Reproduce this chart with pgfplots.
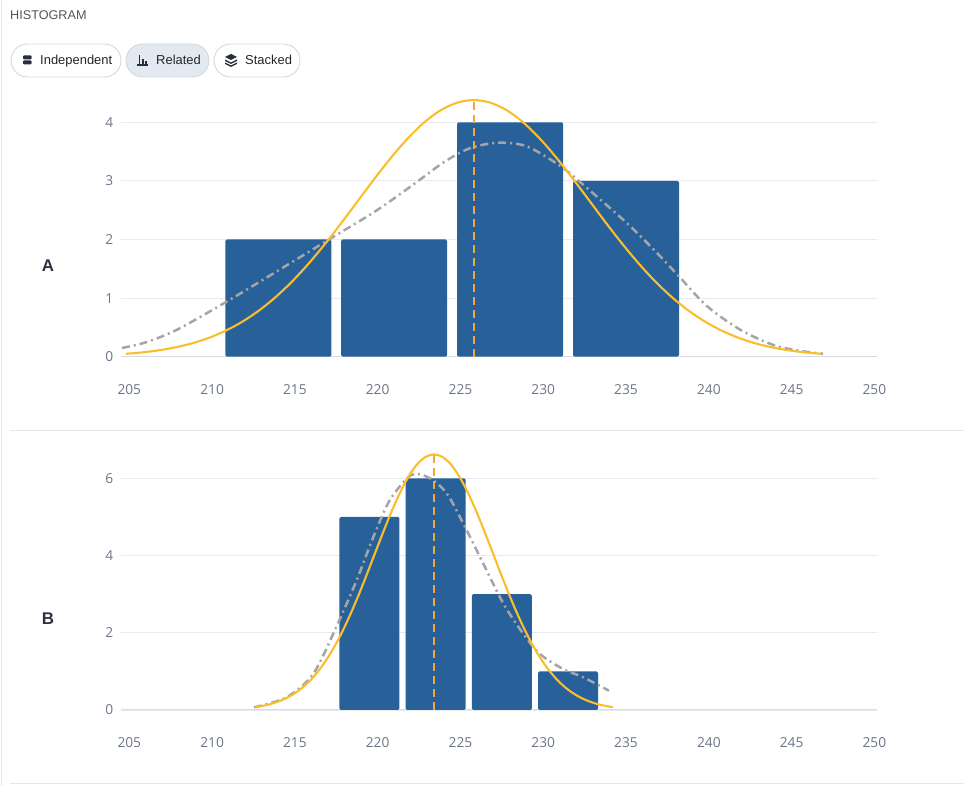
\documentclass[border=0pt]{standalone}
\usepackage{pgfplots}
\pgfplotsset{compat=1.18}
\usepackage{fontspec}
\setmainfont{Liberation Sans}
\newfontfamily\tickfont{Open Sans}
\definecolor{barblue}{RGB}{40,97,153}
\definecolor{normcol}{RGB}{250,190,45}
\definecolor{dashcol}{RGB}{240,168,60}
\definecolor{kdecol}{RGB}{165,165,168}
\definecolor{gridcol}{RGB}{231,235,241}
\definecolor{basecol}{RGB}{214,220,229}
\definecolor{tickcol}{RGB}{108,117,135}
\definecolor{titlecol}{RGB}{80,85,95}
\definecolor{labelcol}{RGB}{45,50,62}
\definecolor{btnborder}{RGB}{210,216,224}
\definecolor{btnfill}{RGB}{227,233,241}
\definecolor{icocol}{RGB}{40,46,58}
\definecolor{sepcol}{RGB}{228,232,238}
\pgfplotsset{
  histax/.style={
    scale only axis, width=756bp,
    xmin=204.48, xmax=250.14, ymin=0,
    axis lines=left,
    x axis line style={draw=basecol, line width=1bp, -},
    y axis line style={draw=none},
    major tick length=0pt,
    xtick={205,210,...,250},
    ymajorgrids, grid style={gridcol, line width=0.8bp},
    tick label style={font={\fontsize{13.8}{16}\tickfont}, text=tickcol},
    /pgf/number format/assume math mode=true,
    /pgf/number format/1000 sep={},
    xticklabel style={yshift=-24bp},
    yticklabel style={xshift=-4bp},
    clip=false,
  },
  normline/.style={normcol, line width=2.1bp, smooth},
  kdeline/.style={kdecol, line width=2.5bp, smooth, dash pattern=on 8bp off 4bp on 2bp off 4bp},
  meanline/.style={dashcol, line width=1.9bp, dash pattern=on 8bp off 5bp},
}
\begin{document}
\begin{tikzpicture}
\path[use as bounding box] (0,0) rectangle (964bp,786bp);
% frame
\draw[sepcol, line width=1bp] (1bp,0) -- (1bp,786bp);
\draw[sepcol, line width=1bp] (10bp,355.7bp) -- (964bp,355.7bp);
\draw[sepcol, line width=1bp] (10bp,2.7bp) -- (964bp,2.7bp);
% title
\node[anchor=base west, inner sep=0, font={\fontsize{12.7}{15}\selectfont}, text=titlecol] at (10bp,766bp) {HISTOGRAM};
% buttons
\draw[rounded corners=16.5bp, fill=white, draw=btnborder, line width=0.9bp] (11bp,709bp) rectangle (121bp,742bp);
\draw[rounded corners=16.5bp, fill=btnfill, draw=btnborder, line width=0.9bp] (126bp,709bp) rectangle (209bp,742bp);
\draw[rounded corners=16.5bp, fill=white, draw=btnborder, line width=0.9bp] (214bp,709bp) rectangle (300bp,742bp);
\node[anchor=base west, inner sep=0, font={\fontsize{13}{15}\selectfont}, text=black!85] at (40bp,721.5bp) {Independent};
\node[anchor=base west, inner sep=0, font={\fontsize{13}{15}\selectfont}, text=black!85] at (156bp,721.5bp) {Related};
\node[anchor=base west, inner sep=0, font={\fontsize{13}{15}\selectfont}, text=black!85] at (245bp,721.5bp) {Stacked};
% icons
\fill[icocol, rounded corners=1bp] (23bp,726.5bp) rectangle (31.5bp,730.5bp);
\fill[icocol, rounded corners=1bp] (23bp,721.5bp) rectangle (31.5bp,725.5bp);
\draw[icocol, line width=1.2bp] (137bp,721bp) -- (147.5bp,721bp);
\draw[icocol, line width=1.3bp] (139.5bp,721bp) -- (139.5bp,731bp);
\draw[icocol, line width=1.3bp] (143bp,721bp) -- (143bp,727bp);
\draw[icocol, line width=1.3bp] (146bp,721bp) -- (146bp,725bp);
\fill[icocol] (231bp,732bp) -- (237bp,729bp) -- (231bp,726bp) -- (225bp,729bp) -- cycle;
\fill[icocol] (225bp,726.5bp) -- (231bp,723.5bp) -- (237bp,726.5bp) -- (237bp,725bp) -- (231bp,722bp) -- (225bp,725bp) -- cycle;
\fill[icocol] (225bp,723.5bp) -- (231bp,720.5bp) -- (237bp,723.5bp) -- (237bp,722bp) -- (231bp,719bp) -- (225bp,722bp) -- cycle;
% row labels
\node[font={\bfseries\fontsize{17}{20}\selectfont}, text=labelcol] at (48bp,520bp) {A};
\node[font={\bfseries\fontsize{17}{20}\selectfont}, text=labelcol] at (48bp,167bp) {B};
% ---------- panel A ----------
\begin{axis}[histax, at={(120.7bp,429.3bp)}, anchor=south west,
  height=263.7bp, ymax=4.5, ytick={0,1,2,3,4}]
\addplot[ybar, bar width=6.4, fill=barblue, draw=none, rounded corners=1.5bp]
  coordinates {(214,2) (221,2) (228,4) (235,3)};
\addplot[kdeline] coordinates {
 (204.56,0.148) (206.05,0.25) (207.88,0.46) (210.7,0.91) (213.7,1.42)
 (217.0,1.99) (219.96,2.50) (222.6,3.03) (224.0,3.32) (225.5,3.55)
 (227.2,3.65) (229.0,3.59) (231.1,3.24) (232.8,2.84) (235.05,2.28)
 (236.7,1.82) (238.2,1.37) (239.9,0.86) (241.9,0.46) (243.9,0.20)
 (245.5,0.10) (246.9,0.05)};
\addplot[normline] coordinates {
 (204.8,0.049) (205.8,0.074) (206.8,0.110) (207.8,0.161) (208.8,0.229)
 (209.8,0.321) (210.8,0.441) (211.8,0.593) (212.8,0.781) (213.8,1.008)
 (214.8,1.274) (215.8,1.579) (216.8,1.917) (217.8,2.279) (218.8,2.657)
 (219.8,3.034) (220.8,3.394) (221.8,3.720) (222.8,3.996) (223.8,4.205)
 (224.8,4.335) (225.8,4.380) (226.8,4.335) (227.8,4.205) (228.8,3.996)
 (229.8,3.720) (230.8,3.394) (231.8,3.034) (232.8,2.657) (233.8,2.279)
 (234.8,1.917) (235.8,1.579) (236.8,1.274) (237.8,1.008) (238.8,0.781)
 (239.8,0.593) (240.8,0.441) (241.8,0.321) (242.8,0.229) (243.8,0.161)
 (244.8,0.110) (245.8,0.074) (246.8,0.049)};
\addplot[meanline] coordinates {(225.8,0) (225.8,4.38)};
\end{axis}
% ---------- panel B ----------
\begin{axis}[histax, at={(120.7bp,76bp)}, anchor=south west,
  height=270.3bp, ymax=7, ytick={0,2,4,6}]
\addplot[ybar, bar width=3.63, fill=barblue, draw=none, rounded corners=1.5bp]
  coordinates {(219.5,5) (223.5,6) (227.5,3) (231.5,1)};
\addplot[kdeline] coordinates {
 (212.53,0.07) (214.5,0.33) (216.1,0.93) (217.5,2.15) (218.73,3.36)
 (219.74,4.48) (220.74,5.44) (222.05,6.09) (223.16,6.0) (224.17,5.61)
 (225.17,4.83) (226.38,3.79) (227.6,2.75) (228.8,1.97) (229.8,1.45)
 (231.2,1.06) (232.4,0.85) (233.97,0.50)};
\addplot[normline] coordinates {
 (212.6,0.074) (212.9,0.094) (213.4,0.140) (213.9,0.204) (214.4,0.291)
 (214.9,0.408) (215.4,0.560) (215.9,0.756) (216.4,1.000) (216.9,1.297)
 (217.4,1.651) (217.9,2.061) (218.4,2.524) (218.9,3.031) (219.4,3.571)
 (219.9,4.127) (220.4,4.678) (220.9,5.202) (221.4,5.673) (221.9,6.070)
 (222.4,6.370) (222.9,6.556) (223.4,6.620) (223.9,6.556) (224.4,6.370)
 (224.9,6.070) (225.4,5.673) (225.9,5.202) (226.4,4.678) (226.9,4.127)
 (227.4,3.571) (227.9,3.031) (228.4,2.524) (228.9,2.061) (229.4,1.651)
 (229.9,1.297) (230.4,1.000) (230.9,0.756) (231.4,0.560) (231.9,0.408)
 (232.4,0.291) (232.9,0.204) (233.4,0.140) (233.9,0.094) (234.2,0.074)};
\addplot[meanline] coordinates {(223.4,0) (223.4,6.62)};
\end{axis}
\end{tikzpicture}
\end{document}
